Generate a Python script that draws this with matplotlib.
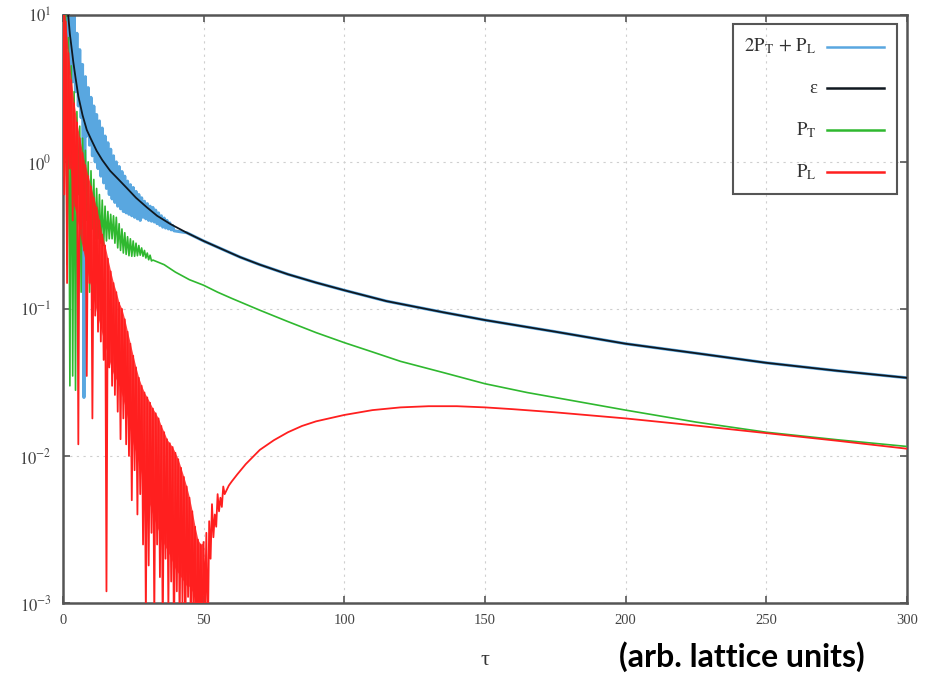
import numpy as np
import matplotlib
matplotlib.use("Agg")
import matplotlib.pyplot as plt
from matplotlib.patches import Rectangle

plt.rcParams["font.family"] = ["Liberation Serif", "DejaVu Serif"]
plt.rcParams["mathtext.fontset"] = "stix"

# --- energy density eps (black) ---
eps_tau = [1.7, 2.5, 3, 3.7, 4.5, 5.5, 7, 8.5, 10, 12, 14, 16.8, 19.5, 22.7, 26, 29.9, 33.5,
           38.2, 44, 50, 63, 70, 80, 90, 100, 115, 135, 150, 175, 200, 225, 250, 275, 300]
eps_val = [11, 7.4, 6.2, 4.8, 3.75, 2.8, 2.08, 1.65, 1.43, 1.19, 1.03, 0.87, 0.77, 0.665, 0.57,
           0.49, 0.43, 0.378, 0.33, 0.29, 0.225, 0.2, 0.172, 0.151, 0.134, 0.113, 0.095, 0.084,
           0.07, 0.058, 0.05, 0.043, 0.038, 0.034]

# --- 2P_T + P_L (blue): oscillating part, peaks at integer tau, troughs half a step later ---
blue_hi = [20, 18, 15, 12, 10, 7.5, 5.8, 4.6, 3.8, 3.2, 2.75, 2.4, 2.1, 1.9, 1.7, 1.5,
           1.35, 1.22, 1.1, 1.0, 0.93, 0.86, 0.8, 0.74, 0.7, 0.67, 0.63, 0.6, 0.57, 0.54,
           0.52, 0.5, 0.49, 0.47, 0.45, 0.43, 0.415, 0.4, 0.385, 0.37]
blue_lo = [8, 6, 4, 3.5, 3.0, 2.4, 2.0, 0.025, 1.5, 1.3, 1.1, 1.0, 0.9, 0.8, 0.72, 0.66,
           0.6, 0.56, 0.53, 0.5, 0.48, 0.46, 0.45, 0.44, 0.43, 0.42, 0.41, 0.4, 0.42, 0.41,
           0.40, 0.395, 0.39, 0.38, 0.37, 0.36, 0.355, 0.35, 0.345, 0.34]

# --- P_T (green) ---
green_hi = [14, 11, 7, 4.5, 3.0, 2.2, 1.75, 1.45, 1.2, 1.0, 0.87, 0.76, 0.66, 0.6, 0.55, 0.5,
            0.46, 0.44, 0.43, 0.42, 0.38, 0.35, 0.33, 0.31, 0.3, 0.29, 0.28, 0.27, 0.26, 0.25,
            0.24, 0.232]
green_lo = [0.8, 0.2, 0.03, 0.035, 0.028, 0.6, 0.13, 0.5, 0.4, 0.13, 0.35, 0.3, 0.3, 0.28,
            0.27, 0.29, 0.3, 0.3, 0.28, 0.26, 0.25, 0.24, 0.235, 0.23, 0.228, 0.228, 0.23, 0.232,
            0.228, 0.222, 0.216, 0.212]
green_tau = [32, 36, 40, 45, 50, 55, 60, 70, 80, 90, 100, 110, 120, 135, 150, 165, 180,
             200, 225, 250, 275, 300]
green_val = [0.215, 0.2, 0.178, 0.158, 0.145, 0.13, 0.118, 0.098, 0.082, 0.069, 0.059,
             0.051, 0.044, 0.037, 0.031, 0.027, 0.024, 0.0205, 0.017, 0.0145, 0.0129, 0.0116]

# --- P_L (red) ---
red_hi = [15, 9, 5.5, 3.6, 2.5, 1.85, 1.45, 1.15, 0.95, 0.8, 0.68, 0.57, 0.49, 0.4, 0.32, 0.27,
          0.22, 0.18, 0.15, 0.13, 0.11, 0.1, 0.085, 0.07, 0.058, 0.048, 0.04, 0.034, 0.03, 0.027,
          0.025, 0.023, 0.021, 0.0195, 0.018, 0.016, 0.0145, 0.013, 0.0122, 0.0115, 0.0105,
          0.0095, 0.0083, 0.0072, 0.0062, 0.0052, 0.0042, 0.0033, 0.0027, 0.0025, 0.0026,
          0.003, 0.0036, 0.0047, 0.004, 0.0055, 0.0052, 0.0062]
red_lo = [0.6, 0.15, 0.9, 0.4, 0.5, 0.012, 0.35, 0.25, 0.035, 0.15, 0.018, 0.09, 0.07, 0.06,
          0.045, 0.0012, 0.04, 0.03, 0.026, 0.02, 0.013, 0.018, 0.012, 0.01, 0.005, 0.008,
          0.004, 0.0055, 0.0025, 0.0008, 0.0018, 0.003, 0.0008, 0.0025, 0.0015, 0.0006, 0.002,
          0.0009, 0.0014, 0.0005, 0.0012, 0.0007, 0.001, 0.0005, 0.0011, 0.0006, 0.0008,
          0.0004, 0.0007, 0.0005, 0.0009, 0.0005, 0.002, 0.0028, 0.0033, 0.0042, 0.0045, 0.0055]
# floor of the densely filled part of the red band (integer tau 0..50)
red_floor = [2.0, 1.5, 1.1, 0.8, 0.5, 0.42, 0.32, 0.26, 0.21, 0.17, 0.14, 0.115, 0.095, 0.08,
             0.067, 0.056, 0.048, 0.041, 0.036, 0.033, 0.03, 0.026, 0.022, 0.018, 0.015, 0.012,
             0.0105, 0.009, 0.0075, 0.0062, 0.0052, 0.0046, 0.004, 0.0035, 0.0031, 0.0028,
             0.0025, 0.0023, 0.0021, 0.0019, 0.0017, 0.0016, 0.0015, 0.0014, 0.0013, 0.0013,
             0.0012, 0.0012, 0.0012, 0.0012, 0.0013]
red_tau = [59, 60, 62, 65, 70, 75, 80, 85, 90, 100, 110, 120, 130, 140, 150, 160, 175,
           200, 225, 250, 275, 300]
red_val = [0.0063, 0.0067, 0.0075, 0.0088, 0.011, 0.0128, 0.0145, 0.016, 0.0172, 0.019,
           0.0205, 0.0214, 0.0218, 0.0218, 0.0214, 0.0208, 0.0198, 0.018, 0.0161, 0.0143,
           0.0127, 0.0112]


def zigzag(hi, lo):
    # peaks at integer tau, troughs at tau + 0.5
    t = np.arange(len(hi))
    x = np.column_stack([t, t + 0.5]).ravel()
    y = np.column_stack([hi, lo]).ravel()
    return x, y


eps_tau = np.array(eps_tau)
eps_val = np.array(eps_val)

bx, by = zigzag(blue_hi, blue_lo)
late = eps_tau > 40
bx = np.concatenate([bx, eps_tau[late]])
by = np.concatenate([by, eps_val[late]])

gx, gy = zigzag(green_hi, green_lo)
gx = np.concatenate([gx, green_tau])
gy = np.concatenate([gy, green_val])

rx, ry = zigzag(red_hi, red_lo)
rx = np.concatenate([rx, red_tau])
ry = np.concatenate([ry, red_val])
nf = len(red_floor)

C_BLUE = "#59a7e0"
C_BLACK = "#101820"
C_GREEN = "#2fb82f"
C_RED = "#ff1f1f"

fig = plt.figure(figsize=(9.38, 6.76), dpi=100)
ax = fig.add_axes([0.067, 0.108, 0.9, 0.87])

ax.plot(bx, by, color=C_BLUE, lw=2.2, zorder=2)
ax.plot(eps_tau, eps_val, color=C_BLACK, lw=1.3, zorder=3)
ax.plot(gx, gy, color=C_GREEN, lw=1.2, zorder=4)
ax.fill_between(np.arange(nf), red_floor, red_hi[:nf], color=C_RED, lw=0, alpha=0.85, zorder=5)
ax.plot(rx, ry, color=C_RED, lw=1.3, zorder=5)

ax.set_yscale("log")
ax.set_xlim(0, 300)
ax.set_ylim(1e-3, 1e1)
ax.set_xticks([0, 50, 100, 150, 200, 250, 300])
ax.set_yticks([1e-3, 1e-2, 1e-1, 1e0, 1e1])
ax.set_yticklabels([r"$10^{-3}$", r"$10^{-2}$", r"$10^{-1}$", r"$10^{0}$", r"$10^{1}$"])
ax.yaxis.set_minor_locator(matplotlib.ticker.NullLocator())
ax.grid(True, color="#cfcfcf", lw=0.8, linestyle=(0, (2, 4)))
ax.tick_params(direction="in", length=5, width=1.2, color="#555555", labelcolor="#444444",
               labelsize=10.5, top=True, right=True, pad=8)
ax.tick_params(axis="y", labelsize=12)
for sp in ax.spines.values():
    sp.set_color("#555555")
    sp.set_linewidth(1.8)

ax.set_xlabel("τ", fontsize=16, color="#333333", labelpad=17)

# legend box drawn by hand so the labels sit right-aligned like the original
ax.add_patch(Rectangle((0.794, 0.696), 0.194, 0.289, transform=ax.transAxes, fill=False,
                       edgecolor="#555555", lw=1.5, zorder=6))
labels = [r"$2\mathrm{P}_\mathrm{T}\,+\,\mathrm{P}_\mathrm{L}$", "ε",
          r"$\mathrm{P}_\mathrm{T}$", r"$\mathrm{P}_\mathrm{L}$"]
colors = [C_BLUE, C_BLACK, C_GREEN, C_RED]
rows = [0.946, 0.875, 0.804, 0.733]
for lab, c, yy in zip(labels, colors, rows):
    ax.text(0.893, yy, lab, transform=ax.transAxes, ha="right", va="center",
            fontsize=13.5, color="#333333", zorder=7)
    ax.plot([0.905, 0.973], [yy, yy], transform=ax.transAxes, color=c, lw=1.8, zorder=7)

fig.text(0.791, 0.028, "(arb. lattice units)", ha="center", va="center",
         fontsize=23, fontweight="bold", family="Lato", color="black")

fig.savefig("out.png", dpi=100)
